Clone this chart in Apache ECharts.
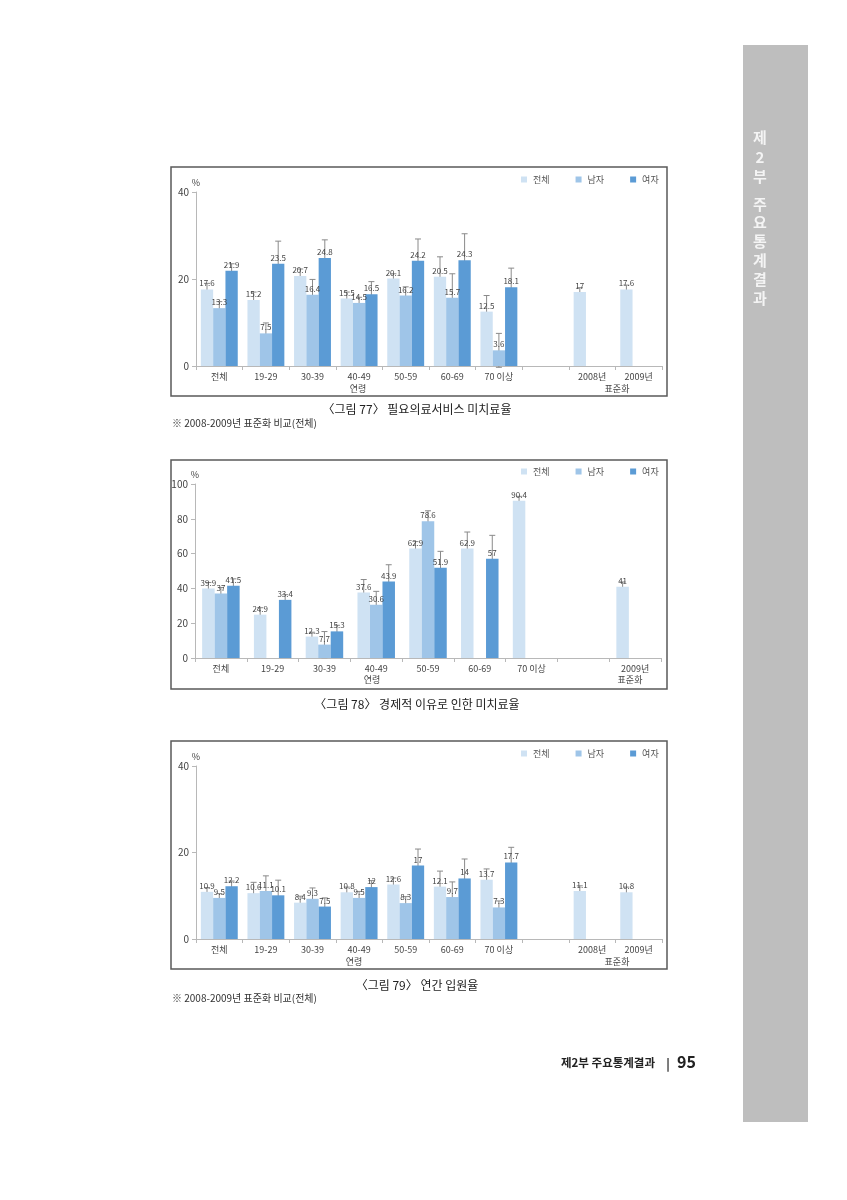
<!DOCTYPE html>
<html>
<head>
<meta charset="utf-8">
<script src="https://cdn.jsdelivr.net/npm/echarts@6/dist/echarts.min.js"></script>
<style>
html,body{margin:0;padding:0;background:#fff;}
#main{width:847px;height:1200px;}
</style>
</head>
<body>
<div id="main"></div>
<script>
// ---------- DATA ----------
const seriesNames = ['전체', '남자', '여자'];

// Figure 77
const categories1 = ['전체', '19-29', '30-39', '40-49', '50-59', '60-69', '70 이상', '', '2008년', '2009년'];
const total1 = [17.6, 15.2, 20.7, 15.5, 20.1, 20.5, 12.5, null, 17, 17.6];
const male1 = [13.3, 7.5, 16.4, 14.5, 16.2, 15.7, 3.6, null, null, null];
const female1 = [21.9, 23.5, 24.8, 16.5, 24.2, 24.3, 18.1, null, null, null];
const totalErr1 = [1.4, 1.8, 1.6, 1.5, 1.1, 4.6, 3.7, null, 1.0, 1.0];
const maleErr1 = [1.5, 2.4, 3.5, 1.3, 2.0, 5.5, 3.9, null, null, null];
const femaleErr1 = [1.6, 5.2, 4.2, 2.9, 5.0, 6.1, 4.4, null, null, null];

// Figure 78
const categories2 = ['전체', '19-29', '30-39', '40-49', '50-59', '60-69', '70 이상', '', '2009년'];
const total2 = [39.9, 24.9, 12.3, 37.6, 62.9, 62.9, 90.4, null, 41];
const male2 = [37, null, 7.7, 30.6, 78.6, null, null, null, null];
const female2 = [41.5, 33.4, 15.3, 43.9, 51.9, 57, null, null, null];
const totalErr2 = [3.5, 4.0, 2.5, 7.5, 4.0, 9.5, 2.5, null, 2.7];
const maleErr2 = [3.5, null, 7.5, 7.7, 6.0, null, null, null, null];
const femaleErr2 = [4.0, 3.0, 3.5, 9.7, 9.4, 13.5, null, null, null];

// Figure 79
const categories3 = ['전체', '19-29', '30-39', '40-49', '50-59', '60-69', '70 이상', '', '2008년', '2009년'];
const total3 = [10.9, 10.6, 8.4, 10.8, 12.6, 12.1, 13.7, null, 11.1, 10.8];
const male3 = [9.5, 11.1, 9.3, 9.5, 8.3, 9.7, 7.3, null, null, null];
const female3 = [12.2, 10.1, 7.5, 12, 17, 14, 17.7, null, null, null];
const totalErr3 = [1.0, 2.5, 1.5, 1.2, 1.5, 3.6, 2.5, null, 1.2, 1.2];
const maleErr3 = [1.0, 3.5, 2.5, 1.5, 1.5, 3.5, 1.5, null, null, null];
const femaleErr3 = [1.2, 3.5, 2.0, 1.5, 3.8, 4.5, 3.5, null, null, null];

const yTicks1 = {min: 0, max: 40, interval: 20};
const yTicks2 = {min: 0, max: 100, interval: 20};
const yTicks3 = {min: 0, max: 40, interval: 20};

// ---------- STYLE ----------
const colors = ['#cfe2f3', '#9fc5e8', '#5b9bd5'];
const FONT = '"Noto Sans CJK KR", "Noto Sans", sans-serif';
const axisGray = '#b8b8b8';
const textCol = '#444';

const chart = echarts.init(document.getElementById('main'), null, {renderer: 'canvas'});

function makeGrid(left, top, width, height) {
  return {left: left, top: top, width: width, height: height, containLabel: false};
}
function makeX(idx, cats) {
  return {
    type: 'category', gridIndex: idx, data: cats,
    axisLine: {lineStyle: {color: axisGray, width: 1}},
    axisTick: {show: true, length: 4, lineStyle: {color: axisGray}},
    axisLabel: {color: textCol, fontSize: 9, fontFamily: FONT, margin: 6, interval: 0},
    splitLine: {show: false}
  };
}
function makeY(idx, t) {
  return {
    type: 'value', gridIndex: idx, min: t.min, max: t.max, interval: t.interval,
    name: '%', nameLocation: 'end', nameGap: 5,
    nameTextStyle: {color: textCol, fontSize: 9, fontFamily: FONT, align: 'center'},
    axisLine: {show: true, lineStyle: {color: axisGray, width: 1}},
    axisTick: {show: true, length: 4, lineStyle: {color: axisGray}},
    axisLabel: {color: textCol, fontSize: 10, fontFamily: FONT, margin: 7},
    splitLine: {show: false}
  };
}
function barSeries(idx, name, data, color, bw) {
  return {
    type: 'bar', name: name, xAxisIndex: idx, yAxisIndex: idx, data: data,
    barWidth: bw, barGap: '0%', z: 3,
    itemStyle: {color: color},
    label: {
      show: true, position: 'top', distance: 2,
      fontSize: 8, color: '#444', fontFamily: FONT,
      formatter: p => (p.value == null ? '' : String(p.value))
    }
  };
}
function errSeries(idx, values, errs, slot, bw) {
  const d = values.map((v, i) => [i, v, errs[i]]);
  return {
    type: 'custom', xAxisIndex: idx, yAxisIndex: idx, z: 2, silent: true,
    data: d, encode: {x: 0, y: 1},
    renderItem: function (params, api) {
      const v = api.value(1), e = api.value(2);
      if (v == null || isNaN(v) || e == null || isNaN(e)) return null;
      const c = api.value(0);
      const hi = api.coord([c, v + e]);
      const lo = api.coord([c, v - e]);
      const x = hi[0] + (slot - 1) * bw;
      const cap = 3;
      const st = {stroke: '#8a8a8a', lineWidth: 1};
      return {
        type: 'group', children: [
          {type: 'line', shape: {x1: x, y1: hi[1], x2: x, y2: lo[1]}, style: st},
          {type: 'line', shape: {x1: x - cap, y1: hi[1], x2: x + cap, y2: hi[1]}, style: st},
          {type: 'line', shape: {x1: x - cap, y1: lo[1], x2: x + cap, y2: lo[1]}, style: st}
        ]
      };
    }
  };
}
function makeLegend(idx, left, top) {
  return {
    data: seriesNames, left: left, top: top, orient: 'horizontal',
    itemWidth: 6, itemHeight: 6, itemGap: 26, icon: 'rect',
    textStyle: {color: '#555', fontSize: 9, fontFamily: FONT, padding: [0, 0, 0, 1]}
  };
}
function txt(x, y, s, size, opts) {
  opts = opts || {};
  return {
    type: 'text', x: x, y: y, silent: true,
    style: {
      text: s, fill: opts.fill || '#333', fontSize: size, fontFamily: FONT,
      align: opts.align || 'left', verticalAlign: 'middle', fontWeight: opts.weight || 'normal'
    }
  };
}
function frame(x1, y1, x2, y2) {
  return {type: 'rect', silent: true, shape: {x: x1, y: y1, width: x2 - x1, height: y2 - y1},
    style: {fill: 'none', stroke: '#5a5a5a', lineWidth: 1.5}, z: -1};
}

const bw1 = 12.3, bw2 = 12.5, bw3 = 12.3;

const sideChars = ['제', '2', '부', '주', '요', '통', '계', '결', '과'];
const sideY = [137, 157, 176, 204, 222, 241, 260, 279, 298];

const graphics = [
  {type: 'rect', silent: true, shape: {x: 743, y: 45, width: 65, height: 1077}, style: {fill: '#bebebe'}, z: -2},
  frame(171, 167, 667, 396),
  frame(171, 460, 667, 689),
  frame(171, 741, 667, 969),
  // axis group titles
  txt(358, 389, '연령', 9, {align: 'center', fill: textCol}),
  txt(617, 389, '표준화', 9, {align: 'center', fill: textCol}),
  txt(372, 680, '연령', 9, {align: 'center', fill: textCol}),
  txt(630, 680, '표준화', 9, {align: 'center', fill: textCol}),
  txt(354, 962, '연령', 9, {align: 'center', fill: textCol}),
  txt(617, 962, '표준화', 9, {align: 'center', fill: textCol}),
  // captions
  txt(417, 409, '〈그림 77〉 필요의료서비스 미치료율', 12, {align: 'center', fill: '#222'}),
  txt(172, 423, '※ 2008-2009년 표준화 비교(전체)', 10, {fill: '#333'}),
  txt(417, 704, '〈그림 78〉 경제적 이유로 인한 미치료율', 12, {align: 'center', fill: '#222'}),
  txt(417, 985, '〈그림 79〉 연간 입원율', 12, {align: 'center', fill: '#222'}),
  txt(172, 998, '※ 2008-2009년 표준화 비교(전체)', 10, {fill: '#333'}),
  // footer
  txt(561, 1063, '제2부 주요통계결과', 11.5, {fill: '#222', weight: 'bold'}),
  txt(668, 1063, '|', 12, {fill: '#222', weight: 'bold', align: 'center'}),
  txt(677, 1062, '95', 16, {fill: '#222', weight: 'bold'})
];
sideChars.forEach((c, i) => graphics.push(txt(760, sideY[i], c, 15, {align: 'center', fill: '#f4f4f4', weight: 'bold'})));

const option = {
  animation: false,
  backgroundColor: '#ffffff',
  color: colors,
  grid: [
    makeGrid(196, 192, 466, 174),
    makeGrid(195, 484, 466, 174),
    makeGrid(196, 766, 466, 173)
  ],
  xAxis: [makeX(0, categories1), makeX(1, categories2), makeX(2, categories3)],
  yAxis: [makeY(0, yTicks1), makeY(1, yTicks2), makeY(2, yTicks3)],
  legend: [makeLegend(0, 516, 170), makeLegend(1, 516, 462), makeLegend(2, 516, 744)],
  series: [
    barSeries(0, seriesNames[0], total1, colors[0], bw1),
    barSeries(0, seriesNames[1], male1, colors[1], bw1),
    barSeries(0, seriesNames[2], female1, colors[2], bw1),
    errSeries(0, total1, totalErr1, 0, bw1),
    errSeries(0, male1, maleErr1, 1, bw1),
    errSeries(0, female1, femaleErr1, 2, bw1),

    barSeries(1, seriesNames[0], total2, colors[0], bw2),
    barSeries(1, seriesNames[1], male2, colors[1], bw2),
    barSeries(1, seriesNames[2], female2, colors[2], bw2),
    errSeries(1, total2, totalErr2, 0, bw2),
    errSeries(1, male2, maleErr2, 1, bw2),
    errSeries(1, female2, femaleErr2, 2, bw2),

    barSeries(2, seriesNames[0], total3, colors[0], bw3),
    barSeries(2, seriesNames[1], male3, colors[1], bw3),
    barSeries(2, seriesNames[2], female3, colors[2], bw3),
    errSeries(2, total3, totalErr3, 0, bw3),
    errSeries(2, male3, maleErr3, 1, bw3),
    errSeries(2, female3, femaleErr3, 2, bw3)
  ],
  graphic: graphics
};
chart.setOption(option);
</script>
</body>
</html>
